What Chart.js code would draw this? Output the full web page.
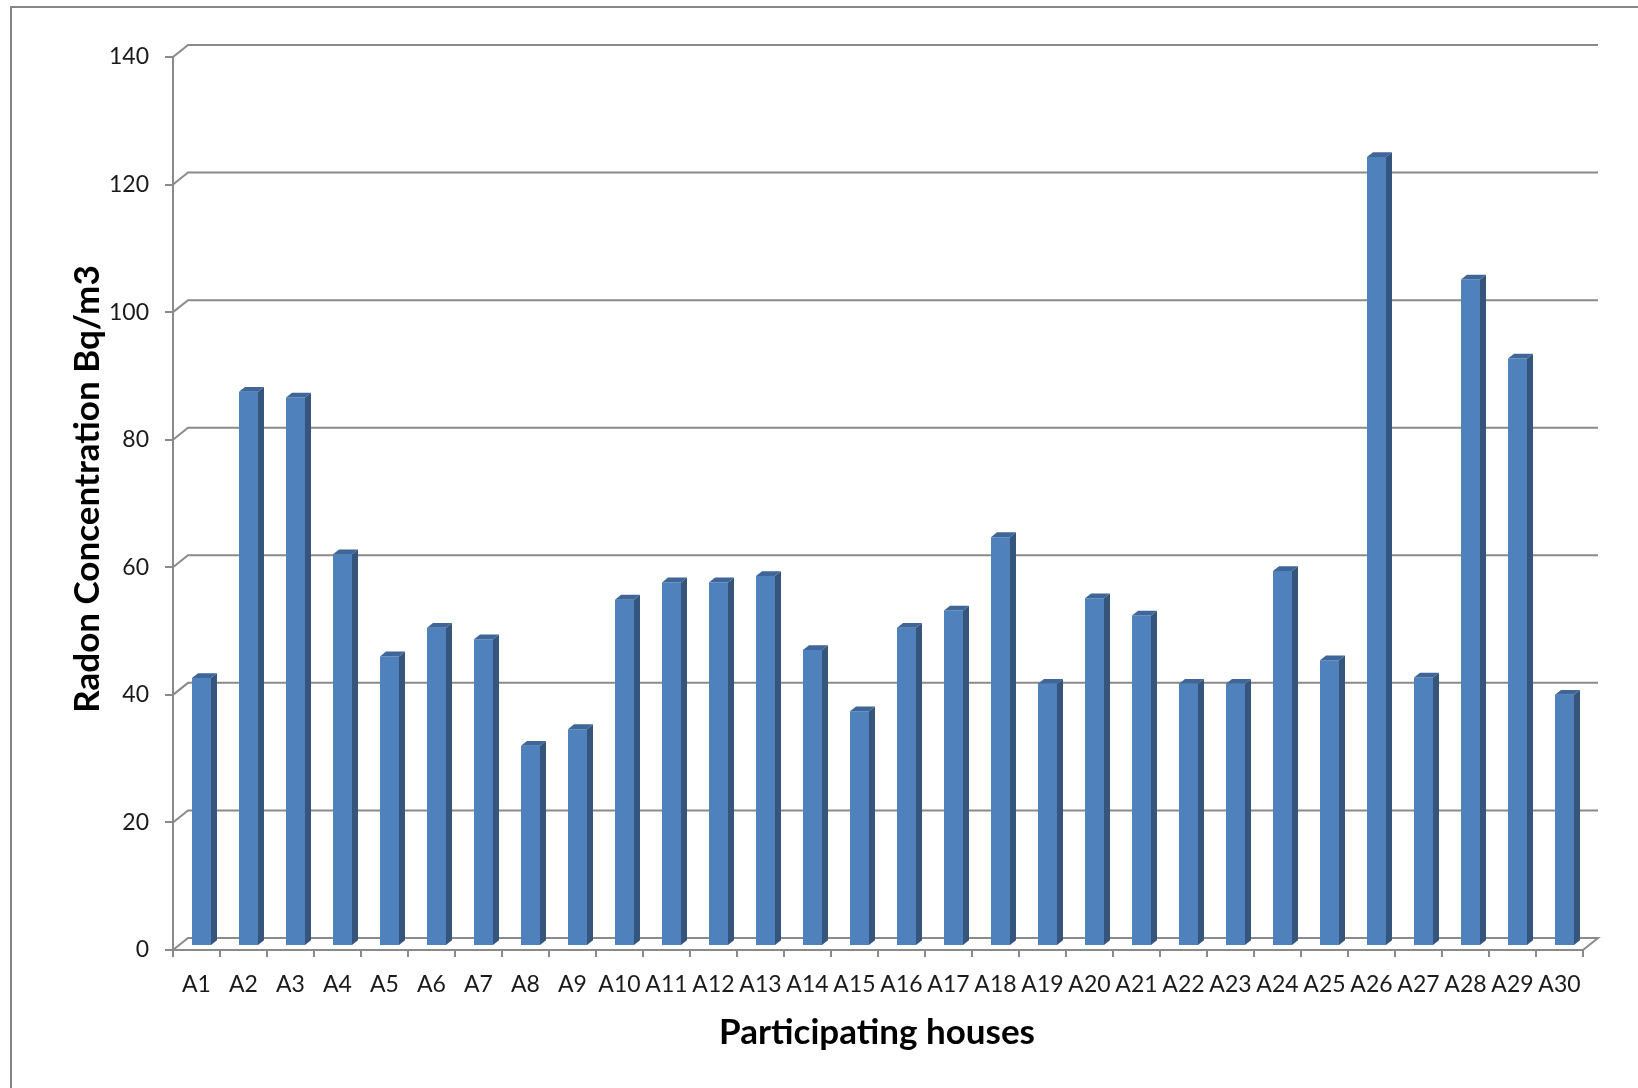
<!DOCTYPE html>
<html>
<head>
<meta charset="utf-8">
<script src="https://cdn.jsdelivr.net/npm/chart.js@4/dist/chart.umd.min.js"></script>
<style>
  html, body { margin: 0; padding: 0; background: #ffffff; overflow: hidden; }
  #wrap { position: relative; width: 1638px; height: 1088px; }
</style>
</head>
<body>
<div id="wrap"><canvas id="radonChart" width="1638" height="1088"></canvas></div>
<script>
// Participating houses and their measured radon concentration (Bq/m3)
const houses = ['A1','A2','A3','A4','A5','A6','A7','A8','A9','A10',
                'A11','A12','A13','A14','A15','A16','A17','A18','A19','A20',
                'A21','A22','A23','A24','A25','A26','A27','A28','A29','A30'];
const radon = [42.0, 86.9, 86.0, 61.4, 45.4, 49.9, 48.1, 31.4, 34.0, 54.3,
               57.0, 57.0, 58.0, 46.4, 36.8, 49.9, 52.6, 64.1, 41.1, 54.5,
               51.8, 41.1, 41.1, 58.8, 44.8, 123.7, 42.1, 104.5, 92.1, 39.4];
const yMin = 0;
const yMax = 140;
const yStep = 20;

const yTitle = 'Radon Concentration Bq/m3';
const xTitle = 'Participating houses';

// oblique 3-D look: back wall offset and column depth
const WALL_DX = 15, WALL_DY = 12;
const BAR_POS = 1 / 3;      // columns sit one third of the way back
const BAR_DEPTH = 0.4;      // column depth as a share of the wall depth

const FRONT = '#4f81bd', SIDE = '#35557d', TOP = '#3e6698';
const LINE = '#8a8a8a';
const FONT = 'Lato, "Open Sans", "DejaVu Sans", sans-serif';

const threeD = {
  id: 'threeD',
  beforeDatasetsDraw(chart) {
    const { ctx, chartArea: { left, right }, scales: { y } } = chart;
    ctx.save();
    ctx.strokeStyle = LINE;
    ctx.lineWidth = 2;
    y.ticks.forEach(t => {
      const py = y.getPixelForValue(t.value);
      ctx.beginPath();
      ctx.moveTo(left, py);
      ctx.lineTo(left + WALL_DX, py - WALL_DY);
      ctx.lineTo(right + WALL_DX, py - WALL_DY);
      if (t.value === yMin) ctx.lineTo(right, py);
      ctx.stroke();
    });
    ctx.restore();
    ctx.save();
    ctx.translate(WALL_DX * BAR_POS, -WALL_DY * BAR_POS);
  },
  afterDatasetsDraw(chart) {
    const ctx = chart.ctx;
    const dx = WALL_DX * BAR_DEPTH, dy = WALL_DY * BAR_DEPTH;
    chart.getDatasetMeta(0).data.forEach(bar => {
      const { x, y, base, width } = bar.getProps(['x', 'y', 'base', 'width'], true);
      const l = x - width / 2, r = x + width / 2;
      // side face
      ctx.fillStyle = SIDE;
      ctx.beginPath();
      ctx.moveTo(r, y);
      ctx.lineTo(r + dx, y - dy);
      ctx.lineTo(r + dx, base - dy);
      ctx.lineTo(r, base);
      ctx.closePath();
      ctx.fill();
      // top face
      ctx.fillStyle = TOP;
      ctx.beginPath();
      ctx.moveTo(l, y);
      ctx.lineTo(l + dx, y - dy);
      ctx.lineTo(r + dx, y - dy);
      ctx.lineTo(r, y);
      ctx.closePath();
      ctx.fill();
    });
    ctx.restore();
  },
  afterDraw(chart) {
    const ctx = chart.ctx;
    ctx.save();
    // outer frame
    ctx.strokeStyle = '#868686';
    ctx.lineWidth = 2;
    ctx.strokeRect(11, 7, 1700, 1200);
    // axis titles
    ctx.fillStyle = '#000';
    ctx.font = 'bold 35px ' + FONT;
    ctx.textAlign = 'center';
    ctx.textBaseline = 'middle';
    ctx.fillText(xTitle, 877, 1033);
    ctx.translate(88, 489);
    ctx.rotate(-Math.PI / 2);
    ctx.fillText(yTitle, 0, 0);
    ctx.restore();
  }
};

new Chart(document.getElementById('radonChart'), {
  type: 'bar',
  data: {
    labels: houses,
    datasets: [{
      data: radon,
      backgroundColor: FRONT,
      borderWidth: 0,
      categoryPercentage: 1,
      barPercentage: 0.404,
      clip: false
    }]
  },
  options: {
    responsive: false,
    animation: false,
    layout: { padding: { left: 0, right: 55, top: 57, bottom: 0 } },
    plugins: { legend: { display: false }, tooltip: { enabled: false } },
    scales: {
      x: {
        offset: true,
        grid: { display: true, drawOnChartArea: false, drawTicks: true, tickLength: 7, color: LINE, lineWidth: 2, offset: true },
        border: { display: true, color: LINE, width: 2 },
        ticks: { color: '#1a1a1a', font: { family: FONT, size: 23 }, padding: 14, maxRotation: 0, autoSkip: false },
        afterFit(scale) { scale.height = 138; }
      },
      y: {
        min: yMin,
        max: yMax,
        grid: { display: true, drawOnChartArea: false, drawTicks: true, tickLength: 8, color: LINE, lineWidth: 2 },
        border: { display: true, color: LINE, width: 2 },
        ticks: { stepSize: yStep, color: '#1a1a1a', font: { family: FONT, size: 23 }, padding: 16 },
        afterFit(scale) { scale.width = 173; }
      }
    }
  },
  plugins: [threeD]
});
</script>
</body>
</html>
